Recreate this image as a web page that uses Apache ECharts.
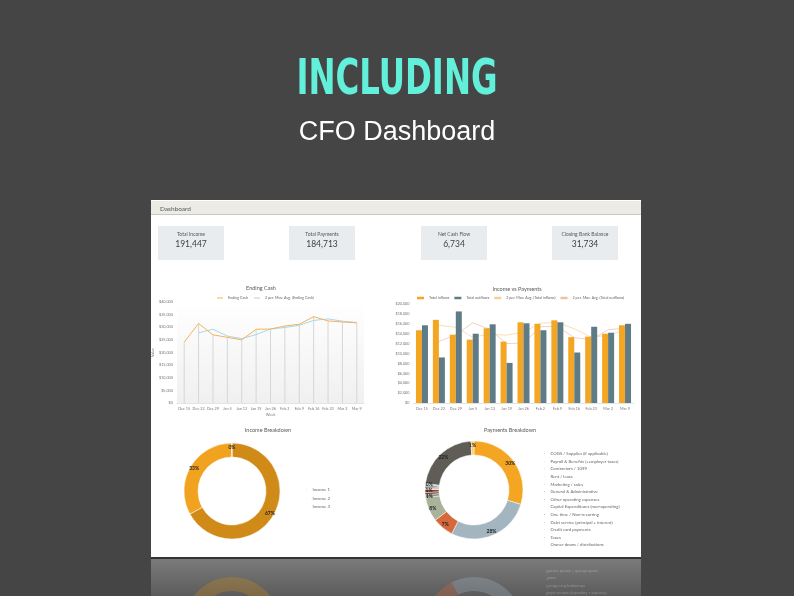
<!DOCTYPE html>
<html><head><meta charset="utf-8">
<script src="https://cdn.jsdelivr.net/npm/echarts@6/dist/echarts.min.js"></script>
<style>html,body{margin:0;padding:0;background:#454545;}#c{width:794px;height:596px;}</style>
</head><body><div id="c"></div>
<script>
// ---- data ----
const weeks = ['Dec 15','Dec 22','Dec 29','Jan 5','Jan 12','Jan 19','Jan 26','Feb 2','Feb 9','Feb 16','Feb 23','Mar 2','Mar 9'];
const endingCash = [24100,31500,27000,26000,25000,29200,29300,30500,31200,34200,32500,32100,31734];
const endingCashAvg = [null,27800,29200,26500,25500,27100,29300,29900,30800,32700,33300,32400,31900];
const inflows  = [14700,16800,13800,12800,15100,12400,16300,16000,16700,13300,13400,14000,15700];
const outflows = [15700,9200,18500,14000,15900,8100,16100,14700,16300,10200,15400,14200,16000];
const inflowsAvg  = [null,15700,15300,13300,13900,13700,14300,16100,16300,15000,13300,13700,14800];
const outflowsAvg = [null,12400,13800,16200,14900,12000,12100,15400,15500,13200,12800,14800,15100];
const kpiLabels = ['Total Income','Total Payments','Net Cash Flow','Closing Bank Balance'];
const kpiValues = ['191,447','184,713','6,734','31,734'];
const incomeNames = ['Income 1','Income 2','Income 3'];
const incomeValues = [128300,63000,150];
const paymentNames = ['COGS / Supplies (if applicable)','Payroll & Benefits (+employer taxes)','Contractors / 1099','Rent / lease','Marketing / sales','General & Administrative','Other operating expenses','Capital Expenditures (non-operating)','One time / Non-recurring','Debt service (principal + interest)','Credit card payments','Taxes','Owner draws / distributions'];
const paymentValues = [55400,51700,12900,14800,1900,1500,1800,900,800,1100,900,40600,1900];

// ---- styles ----
const incomeColors = ['#d08a17','#f1a21f','#f8d28a'];
const paymentColors = ['#f4a522','#a3b6c0','#d5693b','#a8b39a','#8a8a80','#5b4b3b','#9c3a24','#c9c1b1','#333333','#777777','#bbbbbb','#5f5d55','#f6cf6e'];
const FONT = 'Lato';
const money = v => '$' + v.toLocaleString('en-US');

const els = [];
els.push({type:'rect', z:-10, shape:{x:151,y:200,width:490,height:357}, style:{fill:'#ffffff'}});
els.push({type:'rect', z:-9, shape:{x:151,y:201,width:490,height:13}, style:{fill:'#ecebe6'}});
els.push({type:'line', z:-8, shape:{x1:151,y1:214.5,x2:641,y2:214.5}, style:{stroke:'#c9c9c2',lineWidth:1}});
els.push({type:'text', z:10, x:160, y:209, style:{text:'Dashboard', fontSize:6.5, fontFamily:FONT, fill:'#555', verticalAlign:'middle'}});
els.push({type:'rect', z:-10, shape:{x:151,y:557,width:490,height:2}, style:{fill:'#333'}});
els.push({type:'rect', z:-10, shape:{x:151,y:559,width:490,height:37}, style:{fill:{type:'linear',x:0,y:0,x2:0,y2:1,colorStops:[{offset:0,color:'#7b7b7b'},{offset:1,color:'#5b5b5b'}]}}});
els.push({type:'text', z:10, x:397, y:81, scaleX:0.72, style:{text:'INCLUDING', font:'bold 50px "Liberation Sans Narrow", "DejaVu Sans Condensed", sans-serif', fill:'#62f0da', align:'center', verticalAlign:'middle'}});
els.push({type:'text', z:10, x:397, y:133, style:{text:'CFO Dashboard', font:'27px "Liberation Sans", Arial, sans-serif', fill:'#ffffff', align:'center', verticalAlign:'middle'}});
const cardX = [158,289,421,552];
kpiLabels.forEach((l,i)=>{
  els.push({type:'rect', z:-5, shape:{x:cardX[i],y:226,width:66,height:34}, style:{fill:'#e9ecef'}});
  els.push({type:'text', z:10, x:cardX[i]+33, y:234.5, style:{text:l, fontSize:5, fontFamily:FONT, fill:'#555', align:'center', verticalAlign:'middle'}});
  els.push({type:'text', z:10, x:cardX[i]+33, y:244, style:{text:kpiValues[i], fontSize:8.5, fontFamily:FONT, fill:'#404040', align:'center', verticalAlign:'middle'}});
});
[['Ending Cash',261,288.5],['Income vs Payments',517,289],['Income Breakdown',268,430],['Payments Breakdown',510,430]].forEach(t=>{
  els.push({type:'text', z:10, x:t[1], y:t[2], style:{text:t[0], fontSize:5.5, fontFamily:FONT, fill:'#595959', align:'center', verticalAlign:'middle'}});
});
// faint reflected legend text
paymentNames.slice().reverse().slice(0,4).forEach((n,i)=>{
  els.push({type:'text', z:10, x:546, y:571+i*7.5, scaleY:-1, style:{text:n, fontSize:4.2, fontFamily:FONT, fill:'rgba(255,255,255,0.28)', verticalAlign:'middle'}});
});

const axisLab = {fontSize:3.8, color:'#777', fontFamily:FONT};
const legText = {fontSize:3.7, color:'#666', fontFamily:FONT};
const pieLabel = {show:true, position:'inside', fontSize:5, fontWeight:'bold', color:'#222', fontFamily:FONT, formatter:p=>Math.round(p.percent)+'%'};

const option = {
  backgroundColor:'#454545',
  animation:false,
  textStyle:{fontFamily:FONT},
  graphic:{elements:els},
  legend:[
    {data:[{name:'Ending Cash',icon:'rect'},{name:'2 per. Mov. Avg. (Ending Cash)',icon:'rect'}], left:217, top:296, padding:0, itemWidth:6, itemHeight:1, itemGap:6, textStyle:legText},
    {data:[{name:'Total inflows',icon:'rect'},{name:'Total outflows',icon:'rect'},{name:'2 per. Mov. Avg. (Total inflows)',icon:'rect'},{name:'2 per. Mov. Avg. (Total outflows)',icon:'rect'}], left:417, top:296, padding:0, itemWidth:7, itemHeight:2.5, itemGap:5, textStyle:legText},
    {data:incomeNames.map(n=>({name:n,icon:'rect'})), orient:'vertical', left:304, top:487.5, padding:0, itemWidth:2.5, itemHeight:2.5, itemGap:4, textStyle:{fontSize:4.3,color:'#666',fontFamily:FONT}},
    {data:paymentNames.map(n=>({name:n,icon:'rect'})), orient:'vertical', left:542, top:451.5, padding:0, itemWidth:2.5, itemHeight:2.5, itemGap:3.1, textStyle:{fontSize:4.3,color:'#666',fontFamily:FONT}}
  ],
  grid:[
    {left:177, right:430, top:302, bottom:193, show:true, borderWidth:0, backgroundColor:{type:'linear',x:0,y:0,x2:0,y2:1,colorStops:[{offset:0,color:'#ffffff'},{offset:1,color:'#f0f0f0'}]}},
    {left:413.5, right:160.5, top:304, bottom:193}
  ],
  xAxis:[
    {type:'category', gridIndex:0, data:weeks, axisTick:{show:false}, axisLine:{lineStyle:{color:'#d9d9d9',width:0.7}}, axisLabel:Object.assign({margin:4,interval:0},axisLab), name:'Week', nameLocation:'middle', nameGap:9.5, nameTextStyle:{fontSize:3.8,color:'#777'}},
    {type:'category', gridIndex:1, data:weeks, axisTick:{show:false}, axisLine:{lineStyle:{color:'#d9d9d9',width:0.7}}, axisLabel:Object.assign({margin:4,interval:0},axisLab)}
  ],
  yAxis:[
    {type:'value', gridIndex:0, min:0, max:40000, interval:5000, splitLine:{show:false}, axisLine:{show:false}, axisTick:{show:false}, axisLabel:Object.assign({margin:4,formatter:money},axisLab), name:'Value', nameLocation:'middle', nameGap:18, nameRotate:90, nameTextStyle:{fontSize:3.8,color:'#777'}},
    {type:'value', gridIndex:1, min:0, max:20000, interval:2000, splitLine:{show:false}, axisLine:{show:false}, axisTick:{show:false}, axisLabel:Object.assign({margin:4,formatter:money},axisLab)}
  ],
  series:[
    {name:'drop', type:'bar', xAxisIndex:0, yAxisIndex:0, data:endingCash, barWidth:0.8, itemStyle:{color:'#d6d6d6'}, silent:true, z:1},
    {name:'Ending Cash', type:'line', xAxisIndex:0, yAxisIndex:0, data:endingCash, symbol:'none', lineStyle:{width:1}, itemStyle:{color:'#f2b45a'}, z:4},
    {name:'2 per. Mov. Avg. (Ending Cash)', type:'line', xAxisIndex:0, yAxisIndex:0, data:endingCashAvg, symbol:'none', lineStyle:{width:1}, itemStyle:{color:'#a9d6ec'}, z:3},
    {name:'Total inflows', type:'bar', xAxisIndex:1, yAxisIndex:1, data:inflows, barWidth:6, barGap:0, itemStyle:{color:'#f4a522'}},
    {name:'Total outflows', type:'bar', xAxisIndex:1, yAxisIndex:1, data:outflows, barWidth:6, barGap:0, itemStyle:{color:'#5f7c86'}},
    {name:'2 per. Mov. Avg. (Total inflows)', type:'line', xAxisIndex:1, yAxisIndex:1, data:inflowsAvg, symbol:'none', lineStyle:{width:0.7}, itemStyle:{color:'#f7cf98'}, z:1},
    {name:'2 per. Mov. Avg. (Total outflows)', type:'line', xAxisIndex:1, yAxisIndex:1, data:outflowsAvg, symbol:'none', lineStyle:{width:0.7}, itemStyle:{color:'#e6c2a6'}, z:1},
    {name:'Income Breakdown', type:'pie', center:[232,491], radius:[34,48], startAngle:90, clockwise:true, label:pieLabel, labelLine:{show:false}, itemStyle:{borderColor:'#fff',borderWidth:0.5},
      data:incomeNames.map((n,i)=>({name:n,value:incomeValues[i],itemStyle:{color:incomeColors[i]}}))},
    {name:'Payments Breakdown', type:'pie', center:[474,490], radius:[35,49], startAngle:90, clockwise:true, label:pieLabel, labelLine:{show:false}, itemStyle:{borderColor:'#fff',borderWidth:0.5},
      data:paymentNames.map((n,i)=>({name:n,value:paymentValues[i],itemStyle:{color:paymentColors[i]}}))},
    {name:'inc-refl', type:'pie', center:[232,625], radius:[34,48], startAngle:-90, clockwise:false, silent:true, label:{show:false}, itemStyle:{opacity:0.3},
      data:incomeNames.map((n,i)=>({name:n,value:incomeValues[i],itemStyle:{color:incomeColors[i]}}))},
    {name:'pay-refl', type:'pie', center:[474,626], radius:[35,49], startAngle:-90, clockwise:false, silent:true, label:{show:false}, itemStyle:{opacity:0.3},
      data:paymentNames.map((n,i)=>({name:n,value:paymentValues[i],itemStyle:{color:paymentColors[i]}}))}
  ]
};
const chart = echarts.init(document.getElementById('c'), null, {renderer:'canvas'});
chart.setOption(option);
</script></body></html>
